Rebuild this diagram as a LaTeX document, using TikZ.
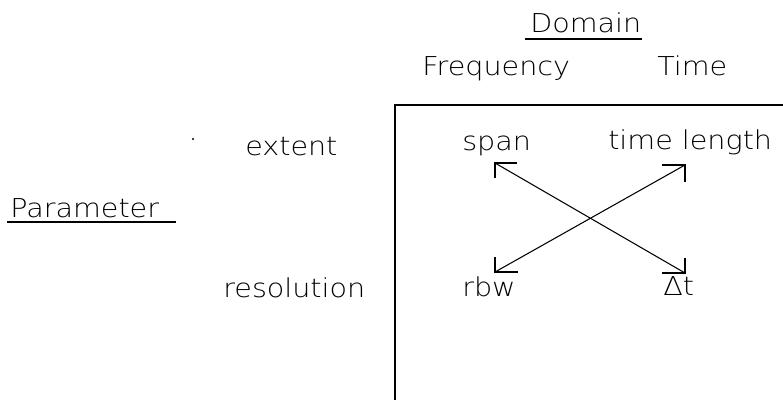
\documentclass[tikz,border=0pt]{standalone}
\usepackage{fontspec}
\setmainfont{DejaVu Sans ExtraLight}[FakeStretch=1.1]
\begin{document}
\begin{tikzpicture}[x=0.75pt,y=-0.75pt,
  lbl/.style={inner sep=0pt,anchor=base west,font=\fontsize{19.5}{23}\selectfont},
  frame/.style={line width=1.1pt},
  link/.style={line width=0.8pt},
  barb/.style={line width=0.8pt}]
\useasboundingbox (0,0) rectangle (783,400);
% headings
\node[lbl] (domain) at (530,32) {Domain};
\draw[line width=0.8pt] (525,39) -- (642,39);
\node[lbl] (freq) at (422,75) {Frequency};
\node[lbl] (time) at (657,75) {Time};
\node[lbl] (param) at (10,217) {Parameter};
\draw[line width=0.8pt] (7,222) -- (176,222);
\node[lbl] (extent) at (245,155) {extent};
\node[lbl] (resol) at (223,297) {resolution};
\fill (193,139) circle (1.1);
% frame
\draw[frame] (395,400) -- (395,105) -- (783,105);
% cell labels
\node[lbl] (span) at (462,150) {span};
\node[lbl] (tlen) at (608,149) {time length};
\node[lbl] (rbw) at (462,296) {rbw};
\node[lbl] (dt) at (663,295) {Δt};
% arrow tips
\coordinate (spanTip) at (495,163);
\coordinate (tlenTip) at (685,165);
\coordinate (rbwTip) at (495,272);
\coordinate (dtTip) at (685,273);
\draw[link] (spanTip) -- (dtTip);
\draw[link] (tlenTip) -- (rbwTip);
\draw[barb] ([xshift=16.5pt]spanTip) -- (spanTip) -- ([yshift=-11.5pt]spanTip);
\draw[barb] ([xshift=-17pt]tlenTip) -- (tlenTip) -- ([yshift=-13pt]tlenTip);
\draw[barb] ([xshift=17pt]rbwTip) -- (rbwTip) -- ([yshift=11.5pt]rbwTip);
\draw[barb] ([xshift=-17pt]dtTip) -- (dtTip) -- ([yshift=11pt]dtTip);
\end{tikzpicture}
\end{document}
